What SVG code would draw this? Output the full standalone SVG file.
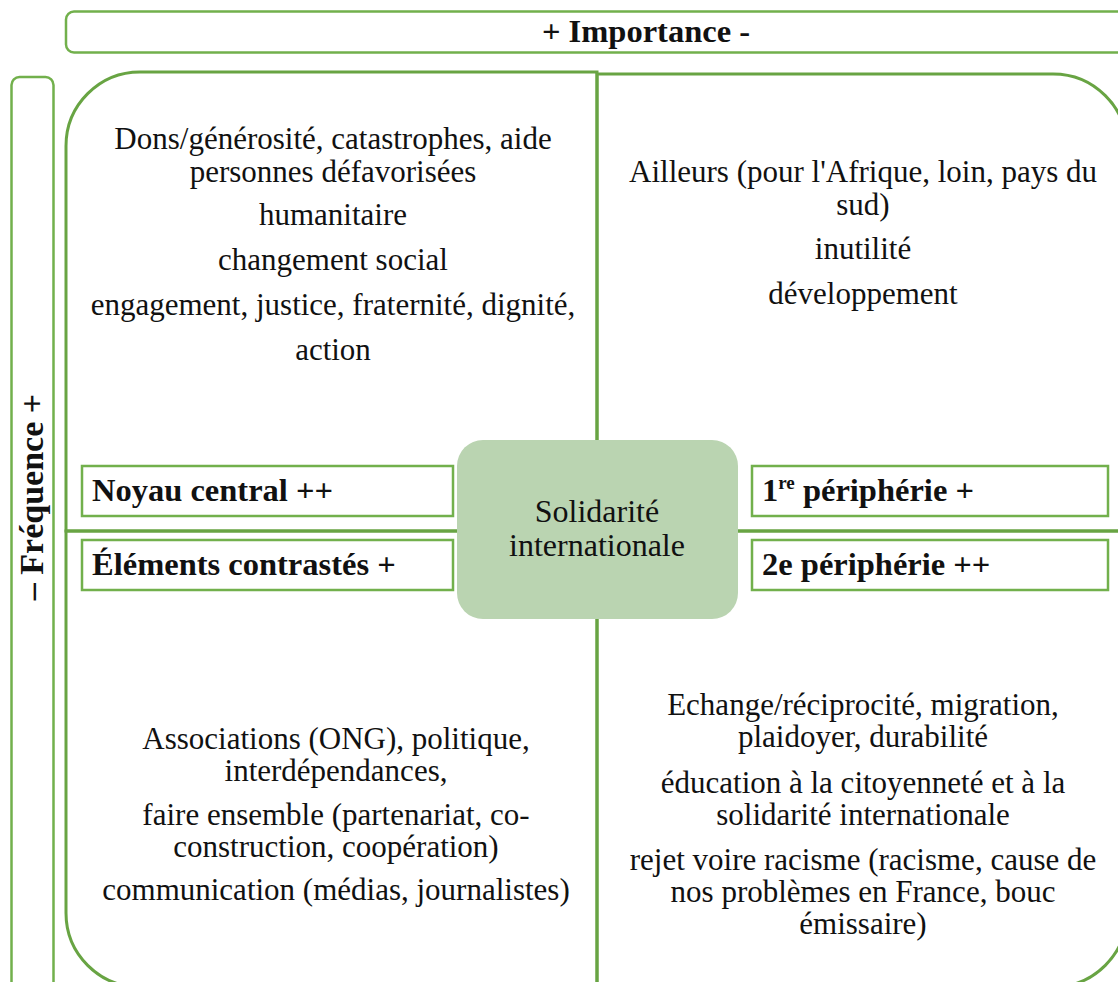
<svg xmlns="http://www.w3.org/2000/svg" width="1118" height="982" viewBox="0 0 1118 982">
<style>
.quad{fill:none;stroke:#68A443;stroke-width:3}
.frame{fill:#fff;stroke:#72B04C;stroke-width:2.5}
.lbl{fill:#fff;stroke:#72B04C;stroke-width:2.5}
.body{font-family:"Liberation Serif","DejaVu Serif",serif;font-size:31px;fill:#111;text-anchor:middle}
.bold{font-family:"Liberation Serif","DejaVu Serif",serif;font-size:32.5px;font-weight:bold;fill:#111}
.center{font-family:"Liberation Serif","DejaVu Serif",serif;font-size:32px;fill:#111;text-anchor:middle}
</style>
<rect width="1118" height="982" fill="#fff"/>
<g id="axis-importance">
<rect class="frame" x="66" y="11.5" width="1160" height="41" rx="8"/>
<text class="bold" x="646" y="42" text-anchor="middle">+ Importance -</text>
</g>
<g id="axis-frequence">
<rect class="frame" x="11.5" y="77" width="42" height="940" rx="8"/>
<text class="bold" transform="translate(43,497) rotate(-90)" text-anchor="middle" style="font-size:34px">– Fréquence +</text>
</g>
<g id="connectors">
<path class="quad" d="M66,531 V146 A74,74 0 0 1 140,72 H597 V531 Z"/>
<path class="quad" d="M597,531 V74 H1053 A74,74 0 0 1 1127,148 V531 Z"/>
<path class="quad" d="M66,531 V913 A74,74 0 0 0 140,987 H597 V531 Z"/>
<path class="quad" d="M597,531 V987 H1053 A74,74 0 0 0 1127,913 V531 Z"/>
</g>
<g id="q-top-left">
<text class="body" x="333" y="149">Dons/générosité, catastrophes, aide</text>
<text class="body" x="333" y="182">personnes défavorisées</text>
<text class="body" x="333" y="225">humanitaire</text>
<text class="body" x="333" y="270">changement social</text>
<text class="body" x="333" y="315">engagement, justice, fraternité, dignité,</text>
<text class="body" x="333" y="360">action</text>
</g>
<g id="q-top-right">
<text class="body" x="863" y="182">Ailleurs (pour l'Afrique, loin, pays du</text>
<text class="body" x="863" y="215">sud)</text>
<text class="body" x="863" y="259">inutilité</text>
<text class="body" x="863" y="304">développement</text>
</g>
<g id="q-bottom-left">
<text class="body" x="336" y="749">Associations (ONG), politique,</text>
<text class="body" x="336" y="781">interdépendances,</text>
<text class="body" x="336" y="825">faire ensemble (partenariat, co-</text>
<text class="body" x="336" y="857">construction, coopération)</text>
<text class="body" x="336" y="900">communication (médias, journalistes)</text>
</g>
<g id="q-bottom-right">
<text class="body" x="863" y="715">Echange/réciprocité, migration,</text>
<text class="body" x="863" y="747">plaidoyer, durabilité</text>
<text class="body" x="863" y="793">éducation à la citoyenneté et à la</text>
<text class="body" x="863" y="825">solidarité internationale</text>
<text class="body" x="863" y="870">rejet voire racisme (racisme, cause de</text>
<text class="body" x="863" y="902">nos problèmes en France, bouc</text>
<text class="body" x="863" y="934">émissaire)</text>
</g>
<g id="label-noyau">
<rect class="lbl" x="82" y="466" width="371" height="50"/>
<text class="bold" x="92" y="501">Noyau central ++</text>
</g>
<g id="label-contrastes">
<rect class="lbl" x="82" y="540" width="371" height="50"/>
<text class="bold" x="92" y="575">Éléments contrastés +</text>
</g>
<g id="label-p1">
<rect class="lbl" x="752" y="466" width="356" height="50"/>
<text class="bold" x="762" y="501">1<tspan font-size="19" dy="-12">re</tspan><tspan dy="12"> périphérie +</tspan></text>
</g>
<g id="label-p2">
<rect class="lbl" x="752" y="540" width="356" height="50"/>
<text class="bold" x="762" y="575">2e périphérie ++</text>
</g>
<g id="center">
<rect x="457" y="440" width="281" height="179" rx="26" fill="#BAD4B1"/>
<text class="center" x="597" y="522">Solidarité</text>
<text class="center" x="597" y="556">internationale</text>
</g>
</svg>
